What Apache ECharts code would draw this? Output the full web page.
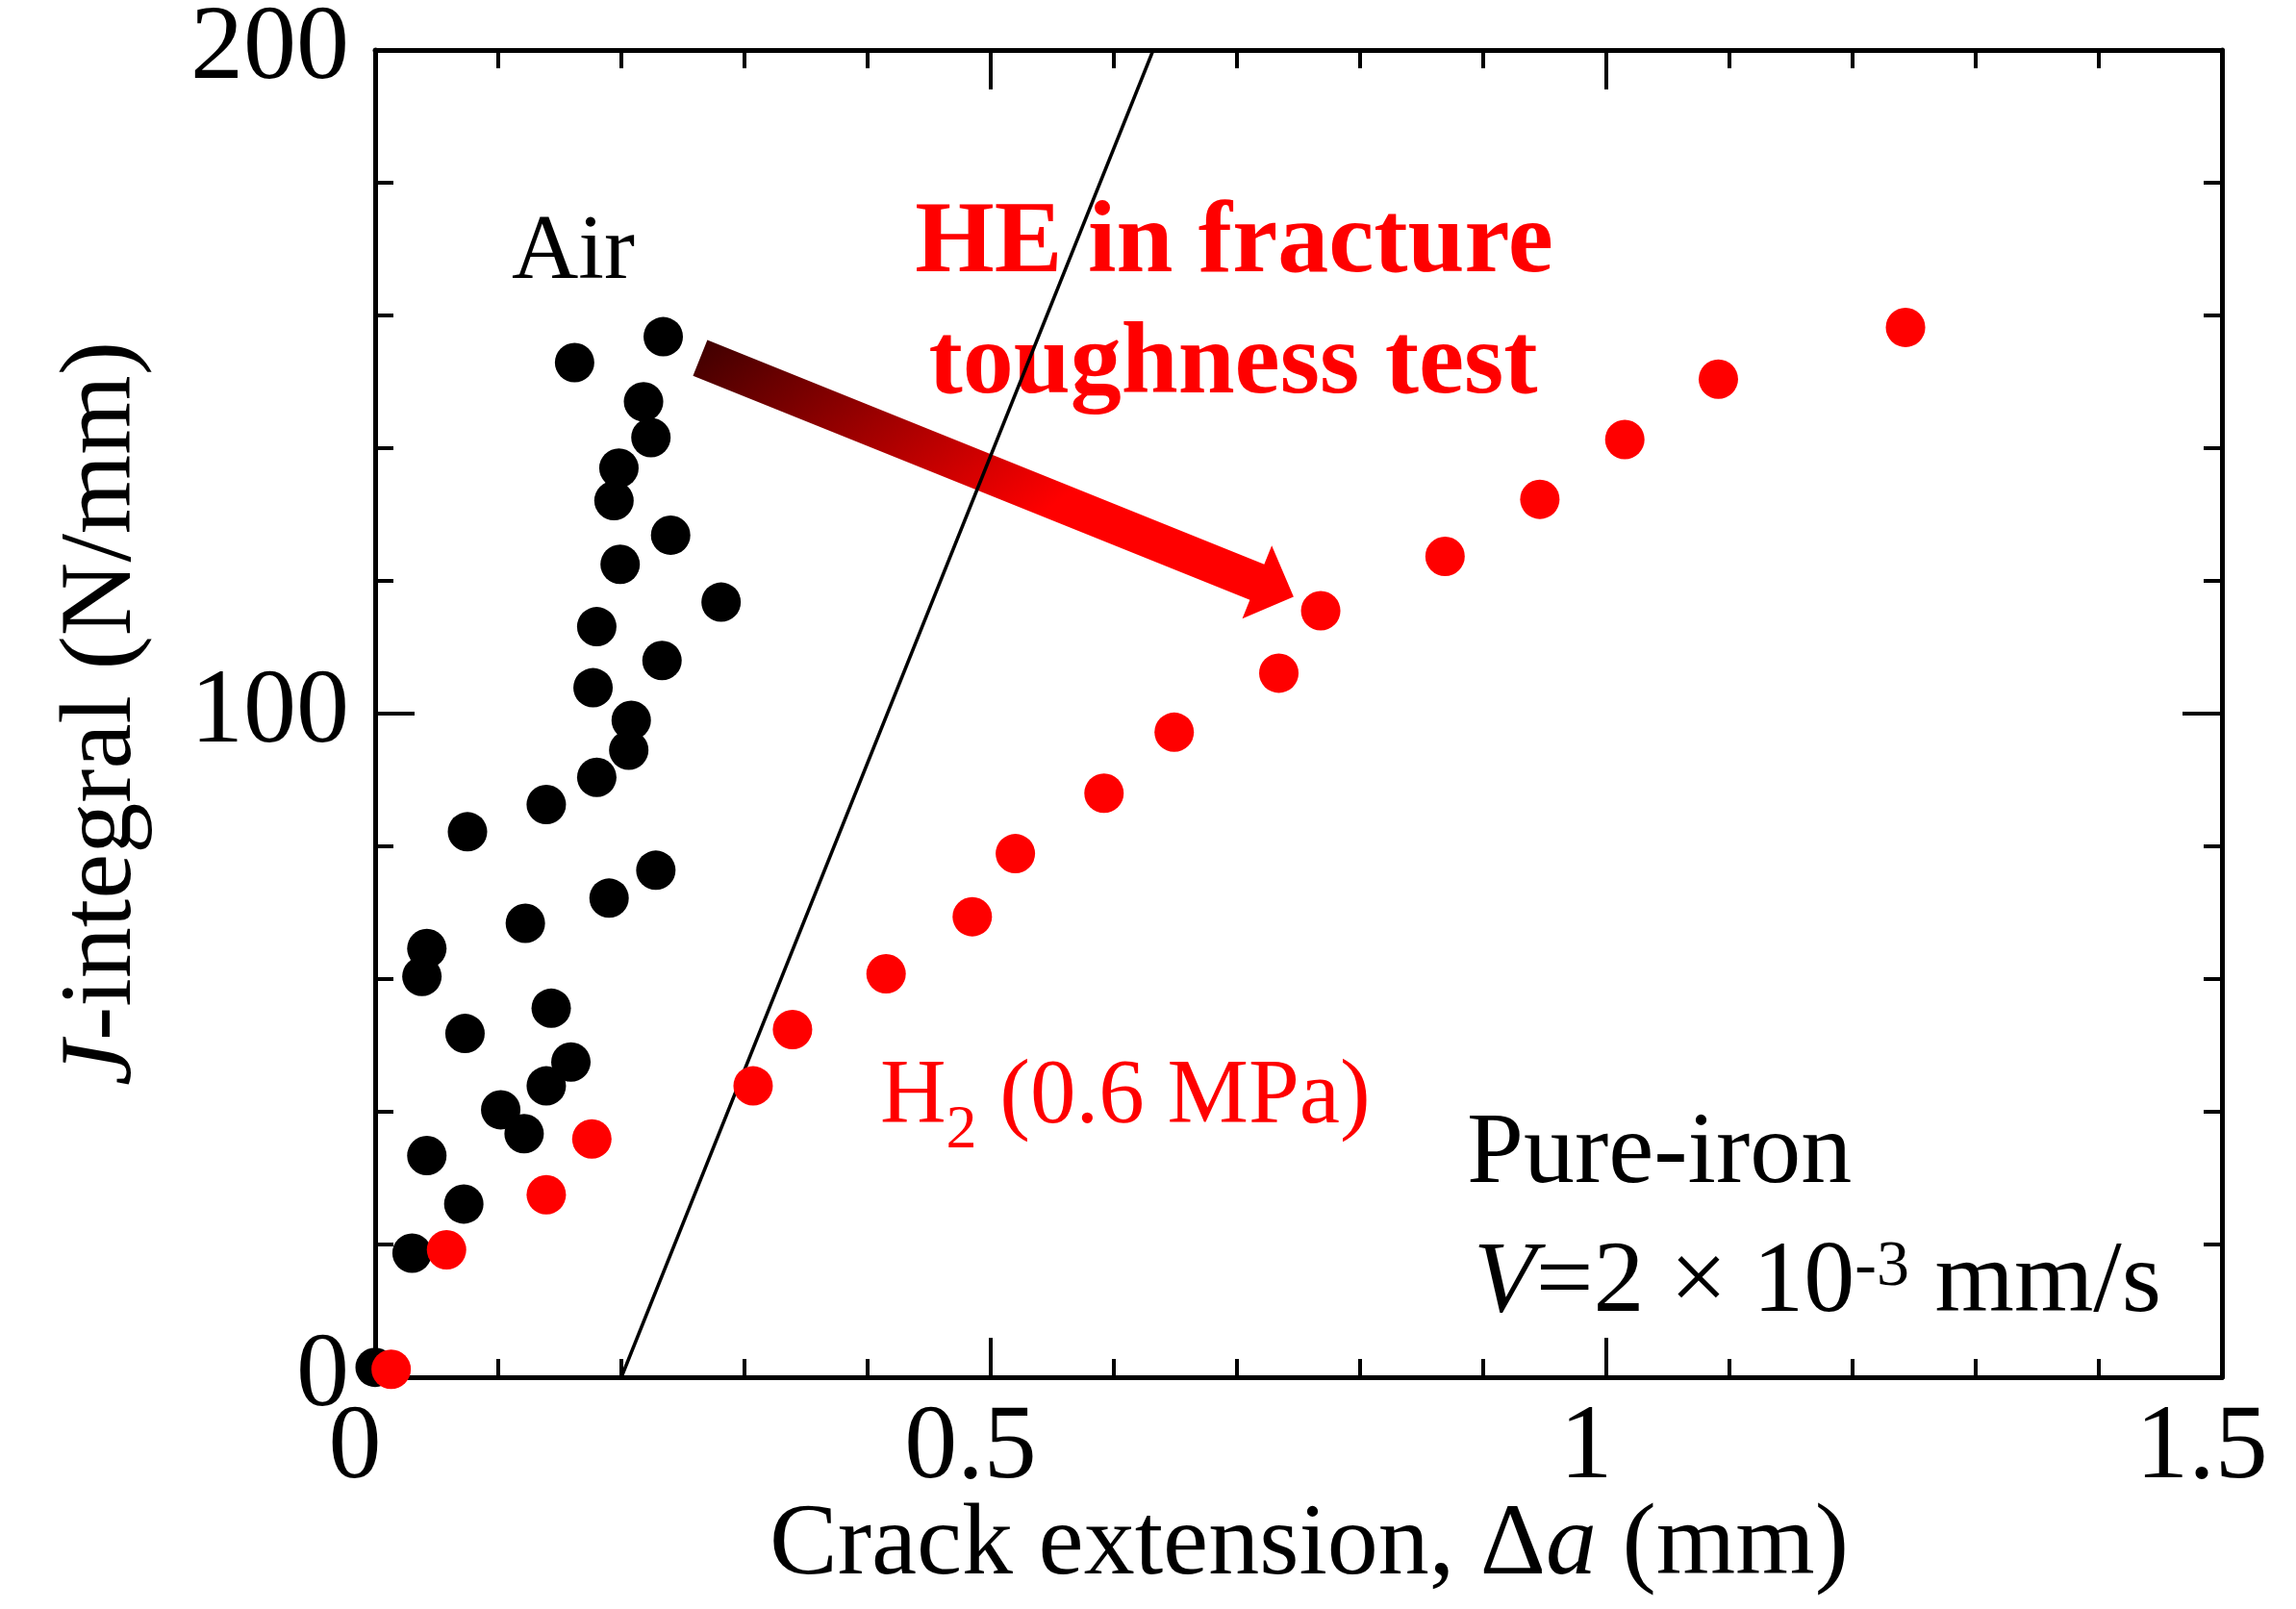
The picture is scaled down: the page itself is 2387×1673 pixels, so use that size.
<!DOCTYPE html>
<html>
<head>
<meta charset="utf-8">
<script src="https://cdn.jsdelivr.net/npm/echarts@6/dist/echarts.min.js"></script>
<style>
  html, body { margin: 0; padding: 0; background: #fff; }
  #chart { width: 2387px; height: 1673px; }
</style>
</head>
<body>
<div id="chart"></div>
<script>
// J-integral vs crack extension, pure iron
const FONT = '"Liberation Serif", "Times New Roman", serif';

// Air: [crack extension (mm), J (N/mm)]
const airData = [
    [0.000, 1.5], [0.030, 18.7], [0.042, 33.4], [0.072, 26.1], [0.073, 51.8],
    [0.038, 60.4], [0.042, 64.6], [0.075, 82.2], [0.102, 40.3], [0.121, 36.7],
    [0.139, 43.9], [0.159, 47.5], [0.143, 55.6], [0.122, 68.4], [0.139, 86.3],
    [0.190, 72.2], [0.228, 76.4], [0.180, 90.4], [0.206, 94.5], [0.208, 99.0],
    [0.177, 103.9], [0.233, 108.0], [0.180, 113.1], [0.281, 116.8], [0.199, 122.5],
    [0.240, 126.9], [0.194, 132.1], [0.198, 137.0], [0.224, 141.6], [0.218, 147.0],
    [0.162, 152.9], [0.234, 156.8]
];

// H2 (0.6 MPa)
const h2Data = [
    [0.013, 1.2], [0.058, 19.2], [0.139, 27.5], [0.176, 35.9], [0.307, 43.9],
    [0.339, 52.4], [0.415, 60.8], [0.485, 69.4], [0.520, 78.9], [0.592, 88.0],
    [0.649, 97.2], [0.734, 106.1], [0.768, 115.5], [0.869, 123.7], [0.946, 132.3],
    [1.015, 141.3], [1.091, 150.4], [1.243, 158.2]
];

// blunting / offset line
const lineX = [0.2, 0.632];
const lineY = [0, 200];

// arrow from Air group to H2 group (data coords)
const arrowFrom = [0.264, 153.6];
const arrowTo = [0.746, 117.6];

const xTickLabels = ['0', '0.5', '1', '1.5'];
const yTickLabels = ['0', '100', '200'];

var chart = echarts.init(document.getElementById('chart'));

function frameAxis(pos, min, max, interval, splitNumber) {
    return {
        type: 'value',
        position: pos,
        min: min,
        max: max,
        interval: interval,
        axisLine: { show: true, onZero: false, lineStyle: { color: '#000', width: 5 } },
        axisTick: { show: true, inside: true, length: 41, lineStyle: { color: '#000', width: 4 } },
        minorTick: { show: true, splitNumber: splitNumber, length: 19, lineStyle: { color: '#000', width: 4 } },
        splitLine: { show: false },
        minorSplitLine: { show: false },
        axisLabel: { show: false }
    };
}

var xMain = frameAxis('bottom', 0, 1.5, 0.5, 5);
xMain.axisLabel = {
    show: true,
    margin: 20,
    fontFamily: FONT,
    fontSize: 110,
    lineHeight: 110,
    color: '#000',
    padding: [0, 42, 0, 0],
    showMinLabel: true,
    showMaxLabel: true,
    formatter: v => xTickLabels[Math.round(v / 0.5)]
};
xMain.name = '{n|Crack extension, Δ}{i|a}{n| (mm)}';
xMain.nameLocation = 'middle';
xMain.nameGap = 123;
xMain.nameMoveOverlap = false;
xMain.nameTextStyle = {
    color: '#000',
    fontFamily: FONT,
    fontSize: 106,
    padding: [0, 0, 0, 22],
    rich: {
        n: { fontFamily: FONT, fontSize: 106, lineHeight: 106, color: '#000' },
        i: { fontFamily: FONT, fontSize: 106, lineHeight: 106, color: '#000', fontStyle: 'italic' }
    }
};

var yMain = frameAxis('left', 0, 200, 100, 5);
yMain.axisLabel = {
    show: true,
    margin: 27,
    fontFamily: FONT,
    fontSize: 110,
    lineHeight: 110,
    color: '#000',
    showMinLabel: true,
    showMaxLabel: true,
    formatter: v => yTickLabels[Math.round(v / 100)]
};
yMain.name = '{i|J}{n|-integral (N/mm)}';
yMain.nameLocation = 'middle';
yMain.nameRotate = 90;
yMain.nameGap = 230;
yMain.nameMoveOverlap = false;
yMain.nameTextStyle = {
    color: '#000',
    fontFamily: FONT,
    fontSize: 106,
    rich: {
        n: { fontFamily: FONT, fontSize: 106, lineHeight: 106, color: '#000' },
        i: { fontFamily: FONT, fontSize: 106, lineHeight: 106, color: '#000', fontStyle: 'italic' }
    }
};

var option = {
    backgroundColor: '#fff',
    animation: false,
    grid: {
        left: 390,
        top: 52,
        width: 1920,
        height: 1380,
        containLabel: false,
        outerBoundsMode: 'none'
    },
    xAxis: [xMain, frameAxis('top', 0, 1.5, 0.5, 5)],
    yAxis: [yMain, frameAxis('right', 0, 200, 100, 5)],
    series: [
        {
            name: 'offset line',
            type: 'line',
            data: lineX.map((x, i) => [x, lineY[i]]),
            showSymbol: false,
            symbol: 'none',
            lineStyle: { color: '#000', width: 3.5 },
            z: 3
        },
        {
            name: 'Air',
            type: 'scatter',
            data: airData,
            symbol: 'circle',
            symbolSize: 41,
            itemStyle: { color: '#000', opacity: 1 },
            z: 4
        },
        {
            name: 'H2 (0.6 MPa)',
            type: 'scatter',
            data: h2Data,
            symbol: 'circle',
            symbolSize: 41,
            itemStyle: { color: '#ff0000', opacity: 1 },
            z: 5
        }
    ]
};
chart.setOption(option);

function textEl(x, y, text, font, fill, align, rich) {
    var style = {
        text: text,
        font: font,
        fill: fill,
        align: align,
        verticalAlign: 'middle'
    };
    if (rich) style.rich = rich;
    return { type: 'text', x: x, y: y, z: 0, style: style };
}

function drawAnnotations() {
    const p0 = chart.convertToPixel({ gridIndex: 0 }, arrowFrom);
    const p1 = chart.convertToPixel({ gridIndex: 0 }, arrowTo);
    const dx = p1[0] - p0[0], dy = p1[1] - p0[1];
    const len = Math.hypot(dx, dy);
    const ux = dx / len, uy = dy / len;
    const nx = -uy, ny = ux;
    const shaft = 20, head = 41, headLen = 41;
    const bx = p1[0] - ux * headLen, by = p1[1] - uy * headLen;
    const pts = [
        [p0[0] + nx * shaft, p0[1] + ny * shaft],
        [bx + nx * shaft, by + ny * shaft],
        [bx + nx * head, by + ny * head],
        [p1[0], p1[1]],
        [bx - nx * head, by - ny * head],
        [bx - nx * shaft, by - ny * shaft],
        [p0[0] - nx * shaft, p0[1] - ny * shaft]
    ];

    const regular = '106px ' + FONT;
    const bold = 'bold 106px ' + FONT;

    chart.setOption({
        graphic: [
            {
                type: 'polygon',
                z: 1,
                shape: { points: pts },
                style: {
                    fill: new echarts.graphic.LinearGradient(0, 0, 0.35, 1, [
                        { offset: 0, color: '#3c0000' },
                        { offset: 1, color: '#ff0000' }
                    ])
                }
            },
            textEl(532, 264, 'Air', '96px ' + FONT, '#000', 'left'),
            textEl(1283, 255, 'HE in fracture', bold, '#ff0000', 'center'),
            textEl(1282, 381, 'toughness test', bold, '#ff0000', 'center'),
            // subscript: bottom padding on token shifts glyphs down by half its size
            textEl(915, 1142, '{n|H}{sub|2}{n| (0.6 MPa)}', '95px ' + FONT, '#ff0000', 'left', {
                n: { fontFamily: FONT, fontSize: 95, lineHeight: 95, color: '#ff0000' },
                sub: { fontFamily: FONT, fontSize: 64, lineHeight: 64, color: '#ff0000', padding: [69, 0, 0, 0] }
            }),
            textEl(1525, 1201, 'Pure-iron', regular, '#000', 'left'),
            textEl(1532, 1335, '{i|V}{n|=2 × 10}{sup|-3}{n| mm/s}', regular, '#000', 'left', {
                n: { fontFamily: FONT, fontSize: 106, lineHeight: 106, color: '#000' },
                i: { fontFamily: FONT, fontSize: 106, lineHeight: 106, color: '#000', fontStyle: 'italic' },
                sup: { fontFamily: FONT, fontSize: 68, lineHeight: 68, color: '#000', padding: [0, 0, 34, 0] }
            })
        ]
    });
}

drawAnnotations();
</script>
</body>
</html>
